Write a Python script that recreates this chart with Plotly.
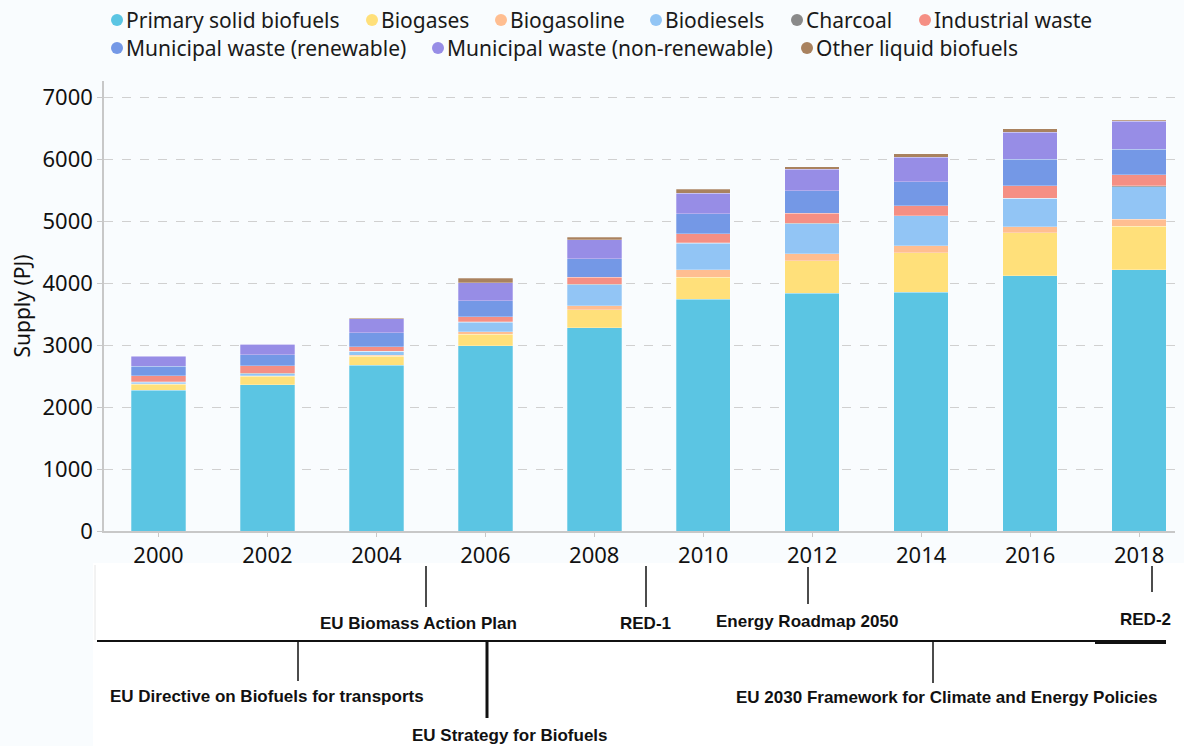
import plotly.graph_objects as go

# ---------------- data ----------------
years = ["2000", "2002", "2004", "2006", "2008", "2010", "2012", "2014", "2016", "2018"]

primary_solid_biofuels = [2274, 2355, 2672, 2984, 3280, 3737, 3834, 3850, 4113, 4210]
biogases = [97, 142, 150, 188, 290, 355, 521, 634, 699, 709]
biogasoline = [8, 8, 12, 43, 64, 118, 113, 113, 96, 108]
biodiesels = [24, 35, 64, 156, 340, 435, 490, 484, 456, 523]
charcoal = [5, 5, 5, 5, 5, 5, 5, 5, 7, 15]
industrial_waste = [97, 121, 70, 76, 113, 145, 166, 161, 199, 177]
municipal_renewable = [156, 173, 226, 263, 300, 323, 355, 387, 430, 419]
municipal_nonrenewable = [160, 170, 226, 290, 302, 328, 350, 398, 435, 447]
other_liquid_biofuels = [5, 5, 8, 70, 43, 65, 42, 49, 50, 21]

series_names = ["Primary solid biofuels", "Biogases", "Biogasoline", "Biodiesels", "Charcoal",
                "Industrial waste", "Municipal waste (renewable)",
                "Municipal waste (non-renewable)", "Other liquid biofuels"]
series_values = [primary_solid_biofuels, biogases, biogasoline, biodiesels, charcoal,
                 industrial_waste, municipal_renewable, municipal_nonrenewable,
                 other_liquid_biofuels]
series_colors = ["#5bc5e3", "#ffe07a", "#ffbe91", "#92c5f5", "#8a8a8a",
                 "#f58f84", "#7498e6", "#978de6", "#a9825f"]

y_ticks = [0, 1000, 2000, 3000, 4000, 5000, 6000, 7000]

timeline_above = ["EU Biomass Action Plan", "RED-1", "Energy Roadmap 2050", "RED-2"]
timeline_below = ["EU Directive on Biofuels for transports", "EU Strategy for Biofuels",
                  "EU 2030 Framework for Climate and Energy Policies"]

# ---------------- geometry helpers (pixel -> paper) ----------------
W, H = 1184, 746
ML, MR, MT, MB = 104, 9, 81, 215
PW, PH = W - ML - MR, H - MT - MB


def px(x):
    return (x - ML) / PW


def py(y):
    return (H - MB - y) / PH


fig = go.Figure()
for name, vals, col in zip(series_names, series_values, series_colors):
    fig.add_trace(go.Bar(
        x=years, y=vals, name=name,
        marker=dict(color=col, line=dict(color="rgba(255,255,255,0.45)", width=0.6)),
        showlegend=False,
    ))

shapes = []
annotations = []

# white backdrop for the timeline strip
shapes.append(dict(type="rect", xref="paper", yref="paper", x0=px(93), x1=px(W), y0=py(H),
                   y1=py(563), fillcolor="white", line=dict(width=0), layer="below"))
shapes.append(dict(type="line", xref="paper", yref="paper", x0=px(95), x1=px(95), y0=py(565),
                   y1=py(640), line=dict(color="#e6e6e6", width=1)))

# ---------------- manual legend ----------------
legend_rows = [(20, [117, 372, 501, 656, 797, 925]), (48, [117, 438, 807])]
k = 0
for ly, xs in legend_rows:
    for mx in xs:
        shapes.append(dict(type="circle", xref="paper", yref="paper",
                           xsizemode="pixel", ysizemode="pixel",
                           xanchor=px(mx), yanchor=py(ly), x0=-6, x1=6, y0=-6, y1=6,
                           fillcolor=series_colors[k], line=dict(width=0)))
        annotations.append(dict(xref="paper", yref="paper", x=px(mx + 7), y=py(ly),
                                text=series_names[k], showarrow=False, xanchor="left",
                                yanchor="middle",
                                font=dict(family="Noto Sans", size=21, color="#1a1a1a")))
        k += 1

# ---------------- timeline ----------------
tl_font = dict(family="Liberation Sans", size=17, color="#111111")
shapes.append(dict(type="line", xref="paper", yref="paper", x0=px(97), x1=px(1166),
                   y0=py(641), y1=py(641), line=dict(color="#111111", width=2)))
shapes.append(dict(type="line", xref="paper", yref="paper", x0=px(1095), x1=px(1166),
                   y0=py(643), y1=py(643), line=dict(color="#111111", width=2)))

above_lines = [(426, 566, 607), (646, 566, 607), (808, 567, 604), (1152, 566, 592)]
above_text = [(418, 623), (645, 623), (807, 621), (1145, 619)]
for (lx, y0, y1), (tx, ty), lab in zip(above_lines, above_text, timeline_above):
    shapes.append(dict(type="line", xref="paper", yref="paper", x0=px(lx), x1=px(lx),
                       y0=py(y0), y1=py(y1), line=dict(color="#111111", width=1.5)))
    annotations.append(dict(xref="paper", yref="paper", x=px(tx), y=py(ty),
                            text="<b>" + lab + "</b>", showarrow=False, xanchor="center",
                            yanchor="middle", font=tl_font))

below_lines = [(298, 641, 681, 1.5), (487, 641, 718, 3), (933, 641, 683, 1.5)]
below_text = [(267, 696), (510, 735), (946, 697)]
for (lx, y0, y1, lw), (tx, ty), lab in zip(below_lines, below_text, timeline_below):
    shapes.append(dict(type="line", xref="paper", yref="paper", x0=px(lx), x1=px(lx),
                       y0=py(y0), y1=py(y1), line=dict(color="#111111", width=lw)))
    annotations.append(dict(xref="paper", yref="paper", x=px(tx), y=py(ty),
                            text="<b>" + lab + "</b>", showarrow=False, xanchor="center",
                            yanchor="middle", font=tl_font))

fig.update_layout(
    width=W, height=H,
    margin=dict(l=ML, r=MR, t=MT, b=MB, autoexpand=False),
    paper_bgcolor="#f9fcfe",
    plot_bgcolor="rgba(0,0,0,0)",
    barmode="stack",
    bargap=0.5,
    font=dict(family="Noto Sans", color="#111111"),
    shapes=shapes,
    annotations=annotations,
    xaxis=dict(
        type="category", range=[-0.5, 9.33],
        showline=True, linecolor="#c8c8c8", linewidth=1.5,
        ticks="outside", ticklen=4, tickcolor="#c8c8c8",
        tickfont=dict(family="Noto Sans", size=22, color="#111111"),
        showgrid=False,
    ),
    yaxis=dict(
        range=[0, 7258],
        tickvals=y_ticks,
        showline=True, linecolor="#c8c8c8", linewidth=1.5,
        ticks="outside", ticklen=5, tickcolor="#c8c8c8",
        tickfont=dict(family="Noto Sans", size=22, color="#111111"),
        showgrid=True, gridcolor="#d0d0d0", griddash="dash", gridwidth=1,
        zeroline=False,
        title=dict(text="Supply (PJ)", font=dict(family="Noto Sans", size=21, color="#111111"),
                   standoff=6),
    ),
)

fig.write_html("out.html", config={"displayModeBar": False},
               post_script="document.body.style.margin='0';")
